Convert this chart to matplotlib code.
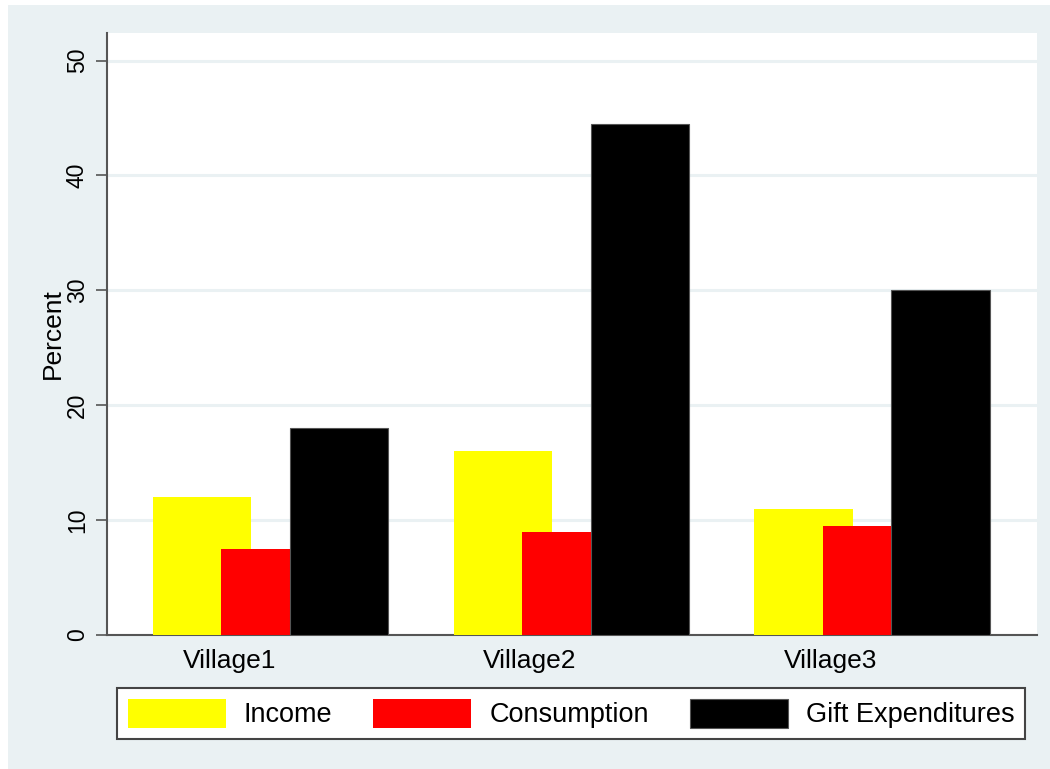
import matplotlib.pyplot as plt
import matplotlib.patches as mpatches
import numpy as np

plt.rcParams['font.family'] = ['Liberation Sans', 'DejaVu Sans']

villages = ['Village1', 'Village2', 'Village3']
income = [12, 16, 11]
consumption = [7.5, 9, 9.5]
gifts = [18, 44.5, 30]
series_names = ['Income', 'Consumption', 'Gift Expenditures']

bg = '#eaf1f3'
W, H = 1050, 769
fig = plt.figure(figsize=(W / 100, H / 100), dpi=100, facecolor='white')
# stata-style outer region (thin white strip on left / top)
fig.patches.append(mpatches.Rectangle((8 / W, 0), 1, 1 - 5 / H, transform=fig.transFigure,
                                      facecolor=bg, edgecolor='none', zorder=-10))

ax = fig.add_axes([107 / W, (H - 635) / H, 930 / W, 602 / H])
ax.set_facecolor('white')
ax.set_zorder(1)

x = np.arange(len(villages))
w = 0.327
off = 0.2276
ax.bar(x - off, income, w, color='#ffff00', edgecolor='none', zorder=3, label=series_names[0])
ax.bar(x, consumption, w, color='#ff0000', edgecolor='none', zorder=4, label=series_names[1])
ax.bar(x + off, gifts, w, color='#000000', edgecolor='#555555', linewidth=0.8, zorder=5,
       label=series_names[2])

ax.set_xlim(-0.543, 2.548)
ax.set_ylim(0, 52.4)
ax.set_yticks([0, 10, 20, 30, 40, 50])
ax.set_yticklabels(['0', '10', '20', '30', '40', '50'], rotation=90, va='center', fontsize=16.5)
ax.set_xticks(x - 0.137)
ax.set_xticklabels(villages, fontsize=19)
ax.tick_params(axis='x', length=0, pad=10)
ax.tick_params(axis='y', length=8, width=1.2, color='#555555', pad=5)
ax.yaxis.grid(True, color=bg, linewidth=2.2, zorder=1)
ax.set_axisbelow(True)
ax.set_ylabel('Percent', fontsize=19, labelpad=1)

for s in ['top', 'right']:
    ax.spines[s].set_visible(False)
for s in ['left', 'bottom']:
    ax.spines[s].set_color('#555555')
    ax.spines[s].set_linewidth(1.5)

handles, labels = ax.get_legend_handles_labels()
leg = fig.legend(handles, labels, loc='lower left', ncol=3, mode='expand',
                 bbox_to_anchor=(117 / W, (H - 739) / H, 908 / W, 51 / H),
                 fontsize=19.5, frameon=True, fancybox=False, shadow=False,
                 handlelength=3.62, handleheight=1.27, handletextpad=0.66,
                 borderpad=0.4, borderaxespad=0, columnspacing=1.5)
leg.get_frame().set_edgecolor('#444444')
leg.get_frame().set_linewidth(1.5)
leg.get_frame().set_facecolor('white')
leg.get_frame().set_alpha(1)

fig.savefig('out.png', dpi=100, facecolor='white')
